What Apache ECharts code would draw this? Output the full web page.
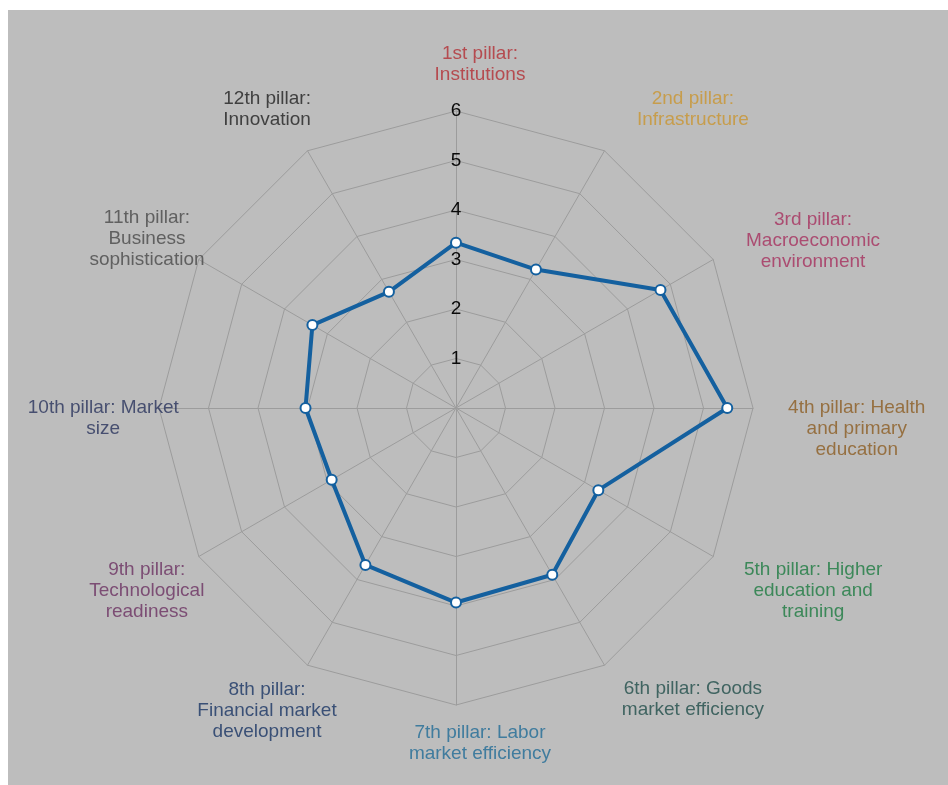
<!DOCTYPE html>
<html>
<head>
<meta charset="utf-8">
<script src="https://cdn.jsdelivr.net/npm/echarts@6/dist/echarts.min.js"></script>
<style>
  html, body { margin: 0; padding: 0; background: #ffffff; }
  #bg { position: absolute; left: 8px; top: 10px; width: 940px; height: 775px; background: #bdbdbd; }
  #chart { position: absolute; left: 0; top: 0; width: 948px; height: 785px; }
</style>
</head>
<body>
<div id="bg"></div>
<div id="chart"></div>
<script>
// ---- data ----
const pillarNames = [
  '1st pillar:\nInstitutions',
  '2nd pillar:\nInfrastructure',
  '3rd pillar:\nMacroeconomic\nenvironment',
  '4th pillar: Health\nand primary\neducation',
  '5th pillar: Higher\neducation and\ntraining',
  '6th pillar: Goods\nmarket efficiency',
  '7th pillar: Labor\nmarket efficiency',
  '8th pillar:\nFinancial market\ndevelopment',
  '9th pillar:\nTechnological\nreadiness',
  '10th pillar: Market\nsize',
  '11th pillar:\nBusiness\nsophistication',
  '12th pillar:\nInnovation'
];
const pillarScores = [3.34, 3.23, 4.77, 5.48, 3.32, 3.89, 3.93, 3.66, 2.90, 3.04, 3.35, 2.71];
const scaleMax = 6;
const scaleTicks = [1, 2, 3, 4, 5, 6];

// ---- styling / layout (not data) ----
const pillarColors = ['#b32e34', '#c9952f', '#a62f5e', '#8c5c22', '#1b7a40', '#214d4a',
                      '#206b96', '#193564', '#6c3161', '#29335d', '#484848', '#202020'];
const nameRadius = [339.5, 364, 375.5, 377, 377, 364, 339.5, 365, 377, 377, 376.5, 364];
const nameAngle  = [0, 35.8, 62.5, 92.1, 117.9, 144.2, 180, 215.7, 242.1, 267.9, 297.8, 324.2];
const FONT = '"Liberation Sans", Arial, sans-serif';

// ECharts radar runs counter-clockwise; reorder so pillars run clockwise from the top
const order = [0, 11, 10, 9, 8, 7, 6, 5, 4, 3, 2, 1];

const chart = echarts.init(document.getElementById('chart'), null, { renderer: 'canvas' });
chart.setOption({
  backgroundColor: 'transparent',
  animation: false,
  radar: {
    center: [456, 408],
    radius: 297,
    startAngle: 90,
    shape: 'polygon',
    splitNumber: scaleMax,
    indicator: order.map(i => ({ name: pillarNames[i], min: 0, max: scaleMax })),
    axisName: { show: false },
    splitLine: { lineStyle: { color: '#9c9c9c', width: 1 } },
    splitArea: { show: false },
    axisLine: { lineStyle: { color: '#9c9c9c', width: 1 } },
    axisTick: { show: false },
    axisLabel: { show: false }
  },
  polar: [
    { center: [456, 408], radius: 297 },
    { center: [480, 383], radius: 400 }
  ],
  angleAxis: [
    { polarIndex: 0, type: 'value', min: 0, max: 360, startAngle: 90, show: false,
      axisLine: { show: false }, axisTick: { show: false }, axisLabel: { show: false }, splitLine: { show: false } },
    { polarIndex: 1, type: 'value', min: 0, max: 360, startAngle: 90, clockwise: true, show: false,
      axisLine: { show: false }, axisTick: { show: false }, axisLabel: { show: false }, splitLine: { show: false } }
  ],
  radiusAxis: [
    { polarIndex: 0, type: 'value', min: 0, max: scaleMax, interval: 1,
      axisLine: { show: false }, axisTick: { show: false }, splitLine: { show: false },
      axisLabel: {
        show: true, margin: 0, align: 'center', verticalAlign: 'middle',
        color: '#0a0a0a', fontSize: 19, fontFamily: FONT,
        formatter: v => (scaleTicks.indexOf(v) >= 0 ? String(v) : '')
      }
    },
    { polarIndex: 1, type: 'value', min: 0, max: 400, show: false,
      axisLine: { show: false }, axisTick: { show: false }, axisLabel: { show: false }, splitLine: { show: false } }
  ],
  series: [
    {
      type: 'radar',
      symbol: 'emptyCircle',
      symbolSize: 10,
      lineStyle: { color: '#14609f', width: 4 },
      itemStyle: { color: '#14609f', borderColor: '#14609f', borderWidth: 2 },
      data: [{ value: order.map(i => pillarScores[i]), name: 'Score' }]
    },
    {
      type: 'scatter',
      coordinateSystem: 'polar',
      polarIndex: 1,
      silent: true,
      symbolSize: 1,
      itemStyle: { color: 'transparent' },
      data: pillarNames.map((n, i) => ({
        name: n,
        value: [nameRadius[i], nameAngle[i]],
        label: { color: pillarColors[i] }
      })),
      label: {
        show: true,
        position: 'inside',
        align: 'center',
        verticalAlign: 'top',
        fontSize: 19,
        lineHeight: 21,
        fontFamily: FONT,
        formatter: p => p.name
      }
    }
  ]
});
</script>
</body>
</html>
